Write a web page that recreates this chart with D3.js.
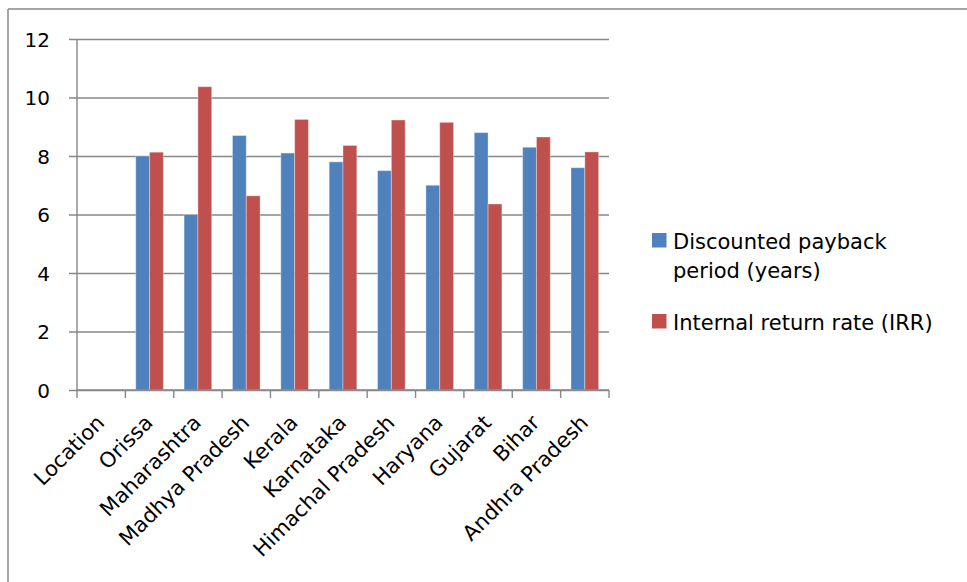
<!DOCTYPE html>
<html>
<head>
<meta charset="utf-8">
<script src="https://cdn.jsdelivr.net/npm/d3@7"></script>
<style>
  html, body { margin: 0; padding: 0; background: #fff; }
  svg { display: block; font-family: "DejaVu Sans", sans-serif; }
</style>
</head>
<body>
<svg id="chart" width="967" height="582"></svg>
<script>
// Categories along the x axis (first slot is the header cell, left empty)
const categories = ["Location", "Orissa", "Maharashtra", "Madhya Pradesh", "Kerala",
  "Karnataka", "Himachal Pradesh", "Haryana", "Gujarat", "Bihar", "Andhra Pradesh"];

// Series values per category
const paybackYears = [null, 8.0, 6.0, 8.7, 8.1, 7.8, 7.5, 7.0, 8.8, 8.3, 7.6];
const irrValues    = [null, 8.13, 10.37, 6.64, 9.25, 8.36, 9.23, 9.15, 6.36, 8.65, 8.14];

const legendLines = [["Discounted payback", "period (years)"], ["Internal return rate (IRR)"]];
const seriesColors = ["#4F81BD", "#C0504D"];
const yTicks = [0, 2, 4, 6, 8, 10, 12];

const series = [paybackYears, irrValues];

const svg = d3.select("#chart");
const W = 967, H = 582;
const plot = { left: 77, right: 609, top: 39, bottom: 390 };
const gridColor = "#878787";
const fontFamily = '"DejaVu Sans", sans-serif';

// Outer chart frame (top and left edges visible)
svg.append("line").attr("x1", 8).attr("y1", 9).attr("x2", W).attr("y2", 9)
  .attr("stroke", gridColor).attr("stroke-width", 1.5);
svg.append("line").attr("x1", 8).attr("y1", 9).attr("x2", 8).attr("y2", H)
  .attr("stroke", gridColor).attr("stroke-width", 1.5);

const x = d3.scaleBand().domain(categories).range([plot.left, plot.right]).paddingInner(0).paddingOuter(0);
const y = d3.scaleLinear().domain([0, 12]).range([plot.bottom, plot.top]);

// Horizontal gridlines with short outward ticks
const yAxis = d3.axisLeft(y).tickValues(yTicks).tickSize(-(plot.right - plot.left)).tickPadding(0).tickFormat(d3.format("d"));
const gy = svg.append("g").attr("transform", `translate(${plot.left},0)`).call(yAxis)
  .attr("font-family", fontFamily).attr("font-size", 20);
gy.select(".domain").remove();
gy.selectAll(".tick line").attr("x1", -8).attr("stroke", gridColor).attr("stroke-width", 1.4);
gy.selectAll(".tick text").attr("x", -27).attr("dy", "0.36em").attr("fill", "#000");

// Vertical axis line
svg.append("line").attr("x1", plot.left).attr("x2", plot.left)
  .attr("y1", plot.top).attr("y2", plot.bottom)
  .attr("stroke", gridColor).attr("stroke-width", 1.4);

// Bars
const bw = x.bandwidth();
const barW = bw / 3.5;
const groupOffset = bw * 0.75 / 3.5;
series.forEach((vals, si) => {
  svg.append("g").selectAll("rect")
    .data(categories.map((c, i) => ({ c, v: vals[i] })).filter(d => d.v != null))
    .join("rect")
    .attr("x", d => x(d.c) + groupOffset + si * barW)
    .attr("y", d => y(d.v))
    .attr("width", barW)
    .attr("height", d => y(0) - y(d.v))
    .attr("fill", seriesColors[si])
    .attr("stroke", "rgba(255,255,255,0.35)")
    .attr("stroke-width", 1);
});

// Category axis along the bottom
const xAxis = d3.axisBottom(x).tickSize(0).tickFormat("");
const gx = svg.append("g").attr("transform", `translate(0,${plot.bottom})`).call(xAxis)
  .attr("font-family", fontFamily).attr("font-size", 21);
gx.select(".domain").attr("stroke", gridColor).attr("stroke-width", 1.4).attr("d", `M${plot.left},0H${plot.right}`);
// Tick marks between categories
const boundaries = categories.map(c => x(c)).concat([plot.right]);
gx.selectAll(".bound").data(boundaries).join("line").attr("class", "bound")
  .attr("x1", d => d).attr("x2", d => d).attr("y1", 0).attr("y2", 8)
  .attr("stroke", gridColor).attr("stroke-width", 1.4);
gx.selectAll(".tick text").remove();
gx.selectAll(".lbl").data(categories).join("text").attr("class", "lbl")
  .attr("transform", d => `translate(${x(d) + bw / 2 + 4.5},${34}) rotate(-45)`)
  .attr("text-anchor", "end")
  .attr("fill", "#000")
  .text(d => d);

// Legend
const legend = svg.append("g").attr("font-family", fontFamily).attr("font-size", 21);
const legendRows = [{ y: 233, color: seriesColors[0], lines: legendLines[0] },
                    { y: 314, color: seriesColors[1], lines: legendLines[1] }];
legendRows.forEach(r => {
  legend.append("rect").attr("x", 652).attr("y", r.y).attr("width", 14.5).attr("height", 14.5)
    .attr("fill", r.color);
  r.lines.forEach((ln, li) => {
    legend.append("text").attr("x", 673).attr("y", r.y + 16 + li * 29)
      .attr("fill", "#000").text(ln);
  });
});
</script>
</body>
</html>
